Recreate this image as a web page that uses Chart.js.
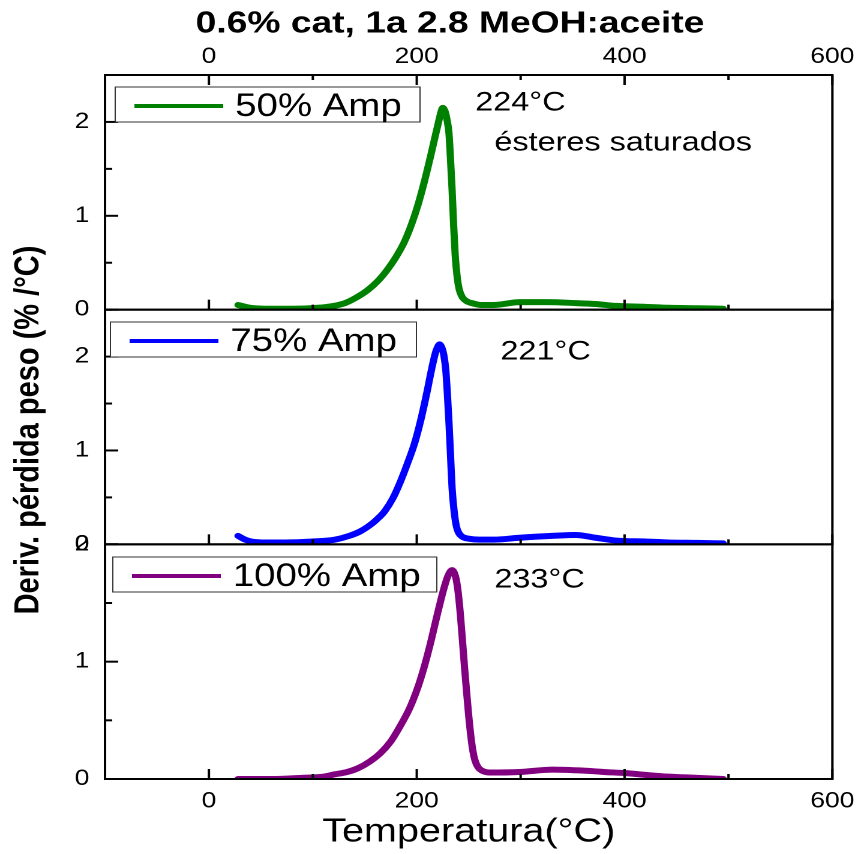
<!DOCTYPE html>
<html lang="es">
<head>
<meta charset="UTF-8">
<title>0.6% cat, 1a 2.8 MeOH:aceite</title>
<script src="https://cdn.jsdelivr.net/npm/chart.js"></script>
<style>
  body { margin: 0; background: #fff; overflow: hidden; }
  /* the reference is drawn a bit wide, so the whole canvas is stretched horizontally */
  .wrap { width: 721px; height: 854px; transform: scaleX(1.2); transform-origin: 0 0; }
</style>
</head>
<body>
<div class="wrap"><canvas id="dtg" width="721" height="854"></canvas></div>
<script>
const seriesLabels = ['50% Amp', '75% Amp', '100% Amp'];
const peakLabels = ['224°C', '221°C', '233°C'];
const seriesColors = ['#008000', '#0000ff', '#800080'];

const temp50 = [28, 40, 60, 80, 105, 120, 131, 142, 153, 163, 172, 180, 188, 195, 201, 207, 213, 218, 221, 223, 225, 227, 229, 231, 232.5, 234, 235.5, 237, 239, 241, 244, 248, 253, 262, 274, 299, 325, 353, 372, 392, 420, 442, 470, 495];
const dtg50 = [0.05, 0.02, 0.01, 0.01, 0.02, 0.04, 0.07, 0.13, 0.21, 0.31, 0.43, 0.56, 0.72, 0.91, 1.11, 1.35, 1.62, 1.86, 2.0, 2.09, 2.15, 2.12, 2.03, 1.88, 1.6, 1.28, 0.9, 0.58, 0.34, 0.21, 0.13, 0.09, 0.07, 0.05, 0.05, 0.08, 0.08, 0.07, 0.06, 0.04, 0.03, 0.02, 0.015, 0.01];

const temp75 = [28, 35, 41, 55, 73, 100, 121, 135, 146, 158, 164, 169, 177, 184, 191, 198, 204, 210, 214, 218, 220, 222, 224, 226, 228, 229.5, 231, 232.5, 234, 236, 238, 240, 244, 250, 260, 274, 299, 330, 353, 372, 392, 420, 442, 470, 495];
const dtg75 = [0.09, 0.05, 0.03, 0.02, 0.02, 0.03, 0.05, 0.09, 0.14, 0.23, 0.29, 0.35, 0.49, 0.66, 0.86, 1.08, 1.33, 1.63, 1.85, 2.04, 2.1, 2.13, 2.1, 2.02, 1.85, 1.6, 1.3, 0.95, 0.6, 0.35, 0.2, 0.13, 0.08, 0.06, 0.05, 0.05, 0.07, 0.09, 0.1, 0.07, 0.04, 0.03, 0.02, 0.015, 0.01];

const temp100 = [28, 60, 89, 110, 121, 133, 143, 155, 165, 175, 184, 193, 201, 207, 213, 220, 226, 230, 234, 236, 238, 240, 242, 244, 246, 248, 250, 252, 254, 256, 259, 263, 270, 299, 331, 363, 380, 401, 420, 442, 470, 495];
const dtg100 = [0, 0, 0.01, 0.02, 0.04, 0.06, 0.09, 0.15, 0.22, 0.32, 0.45, 0.6, 0.78, 0.95, 1.15, 1.41, 1.62, 1.73, 1.78, 1.76, 1.7, 1.58, 1.4, 1.18, 0.95, 0.74, 0.54, 0.37, 0.24, 0.16, 0.1, 0.07, 0.055, 0.06, 0.08, 0.07, 0.06, 0.05, 0.035, 0.02, 0.01, 0];

const xTicks = [0, 200, 400, 600];
const yTicks = [0, 1, 2];
const panelMax = [2.5, 2.5, 2];
const panelIds = ['yTop', 'yMid', 'yBot'];

const FONT = "'Liberation Sans', Arial, sans-serif";

function pts(xs, ys) { return xs.map((x, i) => ({ x: x, y: ys[i] })); }

function yAxis(max, w) {
    return {
        type: 'linear', position: 'left', stack: 'panels', stackWeight: 1, weight: w,
        min: 0, max: max,
        grid: { display: false, drawTicks: false },
        border: { display: false },
        ticks: { font: { family: FONT, size: 22 }, color: '#000', padding: 13 },
        afterBuildTicks: s => { s.ticks = yTicks.map(v => ({ value: v })); },
        afterFit: s => { s.width = 87.5; }
    };
}

function xAxis(pos, pad) {
    return {
        type: 'linear', position: pos, min: -100, max: 600,
        grid: { display: false, drawTicks: false },
        border: { display: false },
        ticks: { font: { family: FONT, size: 22 }, color: '#000', padding: pad, autoSkip: false, maxRotation: 0 },
        afterBuildTicks: s => { s.ticks = xTicks.map(v => ({ value: v })); },
        afterFit: s => { s.height = 75; }
    };
}

// frame, inward tick marks, legend boxes and labels
const decorations = {
    id: 'decorations',
    afterDraw(chart) {
        const ctx = chart.ctx;
        const xs = chart.scales.x;
        const left = chart.chartArea.left, right = chart.chartArea.right;
        const seg = (x1, y1, x2, y2) => { ctx.beginPath(); ctx.moveTo(x1, y1); ctx.lineTo(x2, y2); ctx.stroke(); };
        ctx.save();
        ctx.strokeStyle = '#000';
        ctx.lineWidth = 2;
        panelIds.forEach((id, i) => {
            const s = chart.scales[id];
            ctx.strokeRect(left, s.top, right - left, s.bottom - s.top);
            for (let v = 0; v <= s.max + 1e-9; v += 0.5) {
                const y = s.getPixelForValue(v);
                const major = Math.abs(v - Math.round(v)) < 1e-9;
                seg(left, y, left + (major ? 11 : 6), y);
            }
            for (let v = 0; v <= 600; v += 100) {
                const x = xs.getPixelForValue(v);
                const major = v % 200 === 0;
                seg(x, s.bottom, x, s.bottom - (major ? 10 : 5));
                if (i === 0) seg(x, s.top, x, s.top + (major ? 10 : 5));
            }
        });

        // legend boxes
        const boxes = [[96, 87, 254, 35, 106], [92, 322, 255, 35, 341], [94, 557, 270, 35, 576]];
        ctx.font = '32px ' + FONT;
        ctx.textBaseline = 'middle';
        boxes.forEach((b, i) => {
            ctx.fillStyle = '#fff';
            ctx.fillRect(b[0], b[1], b[2], b[3]);
            ctx.lineWidth = 1;
            ctx.strokeStyle = '#333';
            ctx.strokeRect(b[0], b[1], b[2], b[3]);
            ctx.lineWidth = 4;
            ctx.strokeStyle = seriesColors[i];
            seg(b[0] + 16, b[4], b[0] + 90, b[4]);
            ctx.fillStyle = '#000';
            ctx.fillText(seriesLabels[i], b[0] + 100, b[4] + 1);
        });

        // peak labels
        ctx.font = '27px ' + FONT;
        ctx.fillText(peakLabels[0], 396, 103);
        ctx.fillText('ésteres saturados', 412, 143);
        ctx.fillText(peakLabels[1], 417, 352);
        ctx.fillText(peakLabels[2], 412, 580);

        // chart title
        ctx.font = 'bold 31px ' + FONT;
        ctx.textAlign = 'center';
        ctx.fillText('0.6% cat, 1a 2.8 MeOH:aceite', 375, 24);

        // y axis title
        ctx.translate(24, 430);
        ctx.rotate(-Math.PI / 2);
        ctx.font = 'bold 29px ' + FONT;
        ctx.fillText('Deriv. pérdida peso (% /°C)', 0, 0);
        ctx.restore();
    }
};

const bottomX = xAxis('bottom', 9);
bottomX.title = { display: true, text: 'Temperatura(°C)', color: '#000', font: { family: FONT, size: 33 }, padding: { top: 0, bottom: 2 } };

new Chart(document.getElementById('dtg'), {
    type: 'line',
    data: {
        datasets: [
            { label: seriesLabels[0], data: pts(temp50, dtg50), yAxisID: 'yTop', borderColor: seriesColors[0] },
            { label: seriesLabels[1], data: pts(temp75, dtg75), yAxisID: 'yMid', borderColor: seriesColors[1] },
            { label: seriesLabels[2], data: pts(temp100, dtg100), yAxisID: 'yBot', borderColor: seriesColors[2] }
        ]
    },
    options: {
        responsive: false,
        animation: false,
        devicePixelRatio: 2,
        layout: { padding: { left: 0, right: 23, top: 0, bottom: 0 } },
        elements: {
            line: { borderWidth: 6, cubicInterpolationMode: 'monotone', fill: false, borderCapStyle: 'round', borderJoinStyle: 'round' },
            point: { radius: 0 }
        },
        scales: {
            x: bottomX,
            x2: xAxis('top', 5),
            yTop: yAxis(panelMax[0], 3),
            yMid: yAxis(panelMax[1], 2),
            yBot: yAxis(panelMax[2], 1)
        },
        plugins: { legend: { display: false }, tooltip: { enabled: false } }
    },
    plugins: [decorations]
});
</script>
</body>
</html>
